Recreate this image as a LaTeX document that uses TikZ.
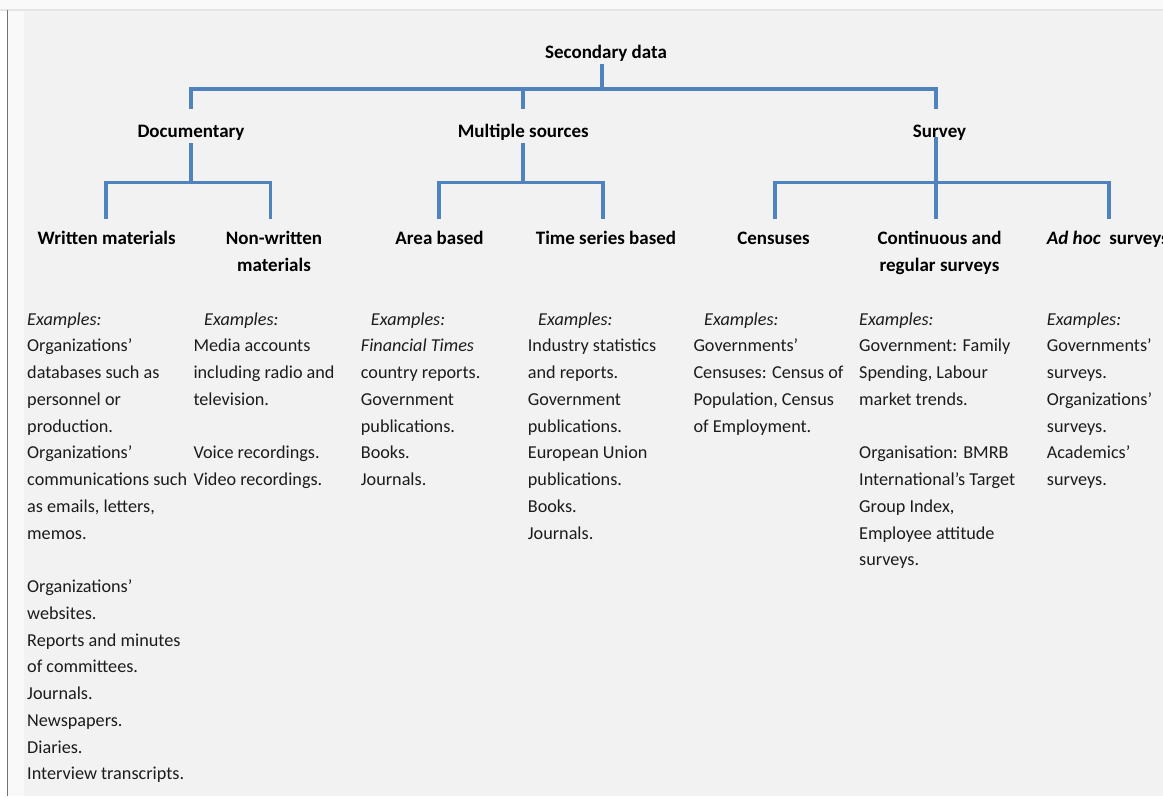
\documentclass[tikz,border=0pt]{standalone}
\usepackage{fontspec}
\setmainfont{Carlito}
\usetikzlibrary{calc,backgrounds}
\definecolor{linkblue}{RGB}{80,130,190}
\definecolor{paper}{RGB}{242,242,242}
\definecolor{ink}{RGB}{28,28,28}
\begin{document}
\begin{tikzpicture}[x=1pt,y=-1pt,
  link/.style={draw=linkblue,line width=3.8pt,line join=miter},
  head/.style={anchor=north,inner sep=0pt,align=center,text=black,
    font=\fontsize{19}{26.75}\selectfont\bfseries},
  body/.style={anchor=north west,inner sep=0pt,align=left,text=ink,
    font=\fontsize{18.2}{26.75}\selectfont}]

% page frame
\useasboundingbox (0,0) rectangle (1163,796);
\clip (0,0) rectangle (1163,796);

% headings
\node[head] (sd)   at (606,39.6)    {\strut Secondary data};
\node[head] (doc)  at (191,119)     {\strut Documentary};
\node[head] (mult) at (523.3,119)   {\strut Multiple sources};
\node[head] (surv) at (939.5,119)   {\strut Survey};

\node[head] (wm)   at (106.7,225.6) {\strut Written materials};
\node[head] (nwm)  at (274,225.6)   {\strut Non-written\\materials};
\node[head] (area) at (439.5,225.6) {\strut Area based};
\node[head] (ts)   at (606,225.6)   {\strut Time series based};
\node[head] (cen)  at (773.5,225.6) {\strut Censuses};
\node[head] (cont) at (939.5,225.6) {\strut Continuous and\\regular surveys};
\node[head,anchor=north west] (adhoc) at (1046.7,225.6) {\strut\textit{Ad hoc}\ \ surveys};

% rail junctions
\coordinate (r0) at (602,89);
\coordinate (dj) at (191,182.5);
\coordinate (mj) at (523.3,182.5);
\coordinate (sj) at (936,182.5);

\begin{scope}[on background layer]
\fill[paper] (0,0) rectangle (1163,796);
\fill[white!55!paper] (0,0) rectangle (1163,9);
\fill[white!50!paper] (8,10) rectangle (24,796);
\fill[white] (0,10) rectangle (7,796);
\draw[black!10,line width=2pt] (0,9.5) -- (1163,9.5);
\draw[black!55,line width=1.3pt] (7.5,10) -- (7.5,796);
% first level
\draw[link] ($(sd.south -| r0)+(0,-3)$) -- (r0);
\draw[link] ($(doc.north)+(0,-10)$) |- (r0) -| ($(sj |- doc.north)+(0,-10)$);
\draw[link] (r0 -| mult.north) -- ($(mult.north)+(0,-10)$);
% Documentary
\draw[link] ($(doc.south)+(0,-3)$) -- (dj);
\draw[link] ($(wm.north)+(-0.7,-7.1)$) |- (dj) -| ($(nwm.north)+(-3.5,-7.1)$);
% Multiple sources
\draw[link] ($(mult.south)+(0,-3)$) -- (mj);
\draw[link] ($(area.north)+(-0.5,-7.1)$) |- (mj) -| ($(ts.north)+(-3,-7.1)$);
% Survey
\draw[link] ($(surv.north)+(-3.5,18)$) -- (sj) -- ($(cont.north)+(-3.5,-7.1)$);
\draw[link] ($(cen.north)+(1.5,-7.1)$) |- (sj) -| ($(adhoc.north west)+(62.3,-7.1)$);
\end{scope}

% example lists
\node[body] (ex1) at (27,306.3) {\strut\textit{Examples:}\\
  Organizations'\\databases such as\\personnel or\\production.\\
  Organizations'\\communications such\\as emails, letters,\\memos.\\
  \mbox{}\\Organizations'\\websites.\\Reports and minutes\\of committees.\\
  Journals.\\Newspapers.\\Diaries.\\Interview transcripts.};
\node[body] (ex2) at (193.3,306.3) {\strut\hspace*{10.7pt}\textit{Examples:}\\
  Media accounts\\including radio and\\television.\\\mbox{}\\
  Voice recordings.\\Video recordings.};
\node[body] (ex3) at (360.7,306.3) {\strut\hspace*{10pt}\textit{Examples:}\\
  \textit{Financial Times}\\country reports.\\Government\\publications.\\
  Books.\\Journals.};
\node[body] (ex4) at (527.7,306.3) {\strut\hspace*{10.3pt}\textit{Examples:}\\
  Industry statistics\\and reports.\\Government\\publications.\\
  European Union\\publications.\\Books.\\Journals.};
\node[body] (ex5) at (693.3,306.3) {\strut\hspace*{10.7pt}\textit{Examples:}\\
  Governments'\\Censuses: Census of\\Population, Census\\of Employment.};
\node[body] (ex6) at (859,306.3) {\strut\textit{Examples:}\\
  Government: Family\\Spending, Labour\\market trends.\\\mbox{}\\
  Organisation: BMRB\\International's Target\\Group Index,\\
  Employee attitude\\surveys.};
\node[body] (ex7) at (1046.7,306.3) {\strut\textit{Examples:}\\
  Governments'\\surveys.\\Organizations'\\surveys.\\Academics'\\surveys.};
\end{tikzpicture}
\end{document}
